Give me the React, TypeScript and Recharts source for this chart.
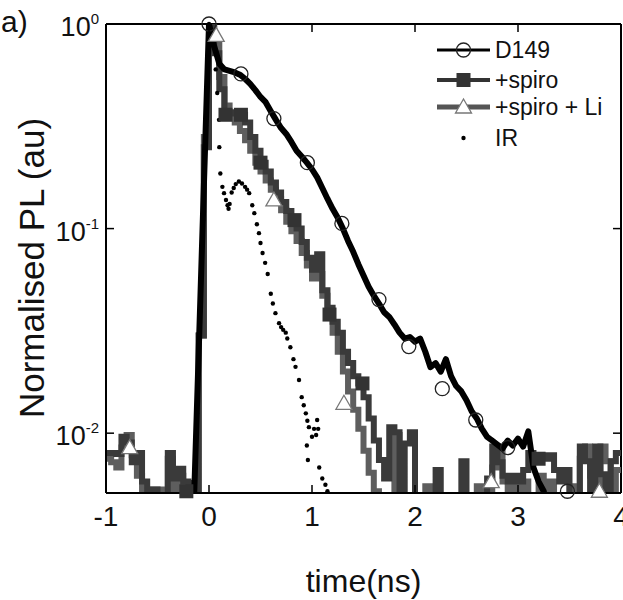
import React from 'react';
import {
  ComposedChart,
  Line,
  Scatter,
  XAxis,
  YAxis,
  ReferenceLine,
  Legend,
  Label,
} from 'recharts';

// time grid (ns), 0.05 ns bins
const T = [
  -1.0, -0.95, -0.9, -0.85, -0.8, -0.75, -0.7, -0.65, -0.6, -0.55,
  -0.5, -0.45, -0.4, -0.35, -0.3, -0.25, -0.2, -0.15, -0.1, -0.05,
  0.0, 0.05, 0.1, 0.15, 0.2, 0.25, 0.3, 0.35, 0.4, 0.45,
  0.5, 0.55, 0.6, 0.65, 0.7, 0.75, 0.8, 0.85, 0.9, 0.95,
  1.0, 1.05, 1.1, 1.15, 1.2, 1.25, 1.3, 1.35, 1.4, 1.45,
  1.5, 1.55, 1.6, 1.65, 1.7, 1.75, 1.8, 1.85, 1.9, 1.95,
  2.0, 2.05, 2.1, 2.15, 2.2, 2.25, 2.3, 2.35, 2.4, 2.45,
  2.5, 2.55, 2.6, 2.65, 2.7, 2.75, 2.8, 2.85, 2.9, 2.95,
  3.0, 3.05, 3.1, 3.15, 3.2, 3.25, 3.3, 3.35, 3.4, 3.45,
  3.5, 3.55, 3.6, 3.65, 3.7, 3.75, 3.8, 3.85, 3.9, 3.95,
  4.0,
];

// 0.004 = below the bottom of the plot
const D149 = [
  0.004, 0.004, 0.004, 0.004, 0.004, 0.004, 0.004, 0.004, 0.004, 0.004,
  0.004, 0.004, 0.004, 0.004, 0.004, 0.004, 0.004, 0.004, 0.025, 0.16,
  1.0, 0.78, 0.64, 0.6, 0.59, 0.58, 0.565, 0.54, 0.51, 0.475,
  0.44, 0.415, 0.375, 0.34, 0.31, 0.29, 0.265, 0.24, 0.225, 0.21,
  0.195, 0.178, 0.158, 0.14, 0.125, 0.113, 0.1, 0.087, 0.077, 0.067,
  0.059, 0.052, 0.047, 0.043, 0.039, 0.037, 0.034, 0.031, 0.029, 0.0295,
  0.028, 0.029, 0.025, 0.021, 0.022, 0.02, 0.023, 0.019, 0.017, 0.016,
  0.0145, 0.0128, 0.0118, 0.0105, 0.0096, 0.0092, 0.0088, 0.0084, 0.0092, 0.0087,
  0.0094, 0.0086, 0.0102, 0.0068, 0.0058, 0.0052, 0.004, 0.004, 0.004, 0.004,
  0.004, 0.004, 0.004, 0.004, 0.004, 0.004, 0.004, 0.004, 0.004, 0.004,
  0.004,
];

const SPIRO = [
  0.008, 0.008, 0.0079, 0.0096, 0.009, 0.0072, 0.008, 0.0058, 0.004, 0.0053,
  0.004, 0.004, 0.008, 0.006, 0.0067, 0.0058, 0.0057, 0.004, 0.03, 0.25,
  1.0, 0.72, 0.48, 0.37, 0.37, 0.365, 0.36, 0.33, 0.28, 0.24,
  0.21, 0.19, 0.168, 0.15, 0.135, 0.122, 0.112, 0.1, 0.086, 0.072,
  0.063, 0.075, 0.05, 0.041, 0.035, 0.031, 0.025, 0.022, 0.019, 0.0175,
  0.015, 0.0118, 0.0092, 0.0074, 0.006, 0.0107, 0.0101, 0.004, 0.0089, 0.0101,
  0.004, 0.004, 0.004, 0.004, 0.0066, 0.004, 0.004, 0.004, 0.004, 0.0073,
  0.004, 0.004, 0.004, 0.004, 0.006, 0.0086, 0.0072, 0.0062, 0.0058, 0.0062,
  0.0058, 0.0066, 0.008, 0.0078, 0.0078, 0.0075, 0.0078, 0.0066, 0.0058, 0.0066,
  0.004, 0.004, 0.0086, 0.0073, 0.004, 0.0086, 0.0063, 0.004, 0.0073, 0.008,
  0.008,
];

const SPIRO_LI = [
  0.0075, 0.0072, 0.0068, 0.0085, 0.0098, 0.0078, 0.0062, 0.004, 0.0053, 0.004,
  0.0053, 0.004, 0.0075, 0.004, 0.0062, 0.004, 0.0055, 0.004, 0.03, 0.28,
  0.95, 0.8, 0.55, 0.4, 0.35, 0.33, 0.3, 0.27, 0.24, 0.21,
  0.19, 0.172, 0.155, 0.14, 0.123, 0.108, 0.097, 0.087, 0.076, 0.066,
  0.057, 0.06, 0.047, 0.039, 0.031, 0.025, 0.02, 0.016, 0.013, 0.0105,
  0.0082, 0.0064, 0.0052, 0.004, 0.004, 0.004, 0.0098, 0.004, 0.004, 0.004,
  0.004, 0.004, 0.0055, 0.004, 0.004, 0.004, 0.004, 0.004, 0.004, 0.004,
  0.004, 0.004, 0.0055, 0.004, 0.004, 0.0068, 0.0082, 0.0058, 0.004, 0.0055,
  0.004, 0.0058, 0.004, 0.004, 0.0062, 0.004, 0.0058, 0.004, 0.004, 0.004,
  0.0055, 0.004, 0.0075, 0.0086, 0.0062, 0.004, 0.0086, 0.0073, 0.004, 0.0066,
  0.0066,
];

// instrument response, [t, value]
const IR = [
  [-0.131, 0.0071], [-0.116, 0.0125], [-0.103, 0.021], [-0.09, 0.034], [-0.073, 0.064],
  [-0.058, 0.11], [-0.045, 0.187], [-0.03, 0.32], [-0.017, 0.53], [-0.006, 0.79],
  [0.0, 1.0], [0.03, 0.8], [0.065, 0.6], [0.08, 0.46], [0.097, 0.34], [0.1, 0.25],
  [0.11, 0.186], [0.13, 0.16], [0.146, 0.149], [0.165, 0.138], [0.18, 0.13], [0.19, 0.125],
  [0.2, 0.132], [0.22, 0.15], [0.24, 0.158], [0.26, 0.165], [0.29, 0.17], [0.32, 0.166],
  [0.35, 0.16], [0.37, 0.155], [0.39, 0.149], [0.42, 0.13], [0.44, 0.119], [0.465, 0.105],
  [0.485, 0.095], [0.5, 0.085], [0.52, 0.076], [0.545, 0.068], [0.57, 0.06], [0.6, 0.048],
  [0.62, 0.043], [0.645, 0.0386], [0.68, 0.0345], [0.7, 0.033], [0.72, 0.032], [0.745, 0.031],
  [0.76, 0.029], [0.79, 0.0263], [0.82, 0.023], [0.84, 0.0211], [0.874, 0.0182], [0.9, 0.015],
  [0.92, 0.0137], [0.94, 0.0125], [0.955, 0.0115], [0.97, 0.0107], [1.0, 0.0096], [1.02, 0.0105],
  [1.05, 0.0116], [1.06, 0.0105], [1.04, 0.0098], [0.95, 0.0087], [0.96, 0.0074], [1.07, 0.0068],
  [1.1, 0.006], [1.13, 0.0056], [1.15, 0.0052],
];

// symbol positions [t, value]
const D149_MARKS = [
  [0, 1], [0.31, 0.57], [0.63, 0.345], [0.955, 0.21], [1.29, 0.106], [1.65, 0.045],
  [1.94, 0.0265], [2.265, 0.0165], [2.59, 0.0116], [2.9, 0.0085], [3.48, 0.0052],
];
const SPIRO_MARKS = [
  [-0.22, 0.0052], [0.16, 0.36], [0.31, 0.36], [0.5, 0.21], [0.83, 0.11],
  [1.17, 0.038], [1.49, 0.0175], [3.2, 0.0075],
];
const LI_MARKS = [
  [-0.77, 0.0085], [0.07, 0.88], [0.63, 0.138], [1.31, 0.014], [2.74, 0.0058], [3.79, 0.0052],
];

const X_TICKS = [-1, 0, 1, 2, 3, 4];
const Y_TICKS = [1, 0.1, 0.01];
const SERIES_NAMES = ['D149', '+spiro', '+spiro + Li', 'IR'];

const FONT = '"Liberation Sans", Arial, Helvetica, sans-serif';
const W = 623;
const H = 600;
const PLOT_LEFT = 106;
const PLOT_W = 515;
const PLOT_H = 469;

const rows = T.map((t, i) => ({ t, d149: D149[i], spiro: SPIRO[i], li: SPIRO_LI[i] }));
const pts = (list: number[][]) => list.map(([t, v]) => ({ t, v }));

function XTick(props: any) {
  const { x, y, payload } = props;
  return (
    <g>
      <text x={x} y={y + 33} textAnchor="middle" fontSize={28} fill="#111" fontFamily={FONT}>
        {payload.value}
      </text>
      <line x1={x} x2={x} y1={y} y2={y - 8} stroke="#000" strokeWidth={1.5} />
      <line x1={x} x2={x} y1={y - PLOT_H} y2={y - PLOT_H + 8} stroke="#000" strokeWidth={1.5} />
    </g>
  );
}

function YTick(props: any) {
  const { y, payload } = props;
  const x = PLOT_LEFT;
  const exp = Math.round(Math.log10(payload.value));
  return (
    <g>
      <text x={x - 7} y={y + 12} textAnchor="end" fontSize={27} fill="#111" fontFamily={FONT}>
        10
        <tspan dy={-12} fontSize={15}>
          {exp}
        </tspan>
      </text>
      <line x1={x} x2={x + 8} y1={y} y2={y} stroke="#000" strokeWidth={1.5} />
      <line x1={x + PLOT_W - 8} x2={x + PLOT_W} y1={y} y2={y} stroke="#000" strokeWidth={1.5} />
    </g>
  );
}

const Circle = (p: any) => (
  <circle cx={p.cx} cy={p.cy} r={7} fill="none" stroke="#222" strokeWidth={1.3} />
);
const Square = (p: any) => (
  <rect x={p.cx - 7} y={p.cy - 7} width={14} height={14} fill="#333" />
);
const Triangle = (p: any) => (
  <polygon
    points={`${p.cx},${p.cy - 8} ${p.cx - 8},${p.cy + 6} ${p.cx + 8},${p.cy + 6}`}
    fill="#fff"
    stroke="#777"
    strokeWidth={1.3}
  />
);
const Dot = (p: any) => <circle cx={p.cx} cy={p.cy} r={2.2} fill="#000" />;

function LegendBox() {
  const rowsY = [18, 48, 75, 106];
  return (
    <svg width={195} height={125} style={{ overflow: 'visible' }}>
      <line x1={9} x2={62} y1={rowsY[0]} y2={rowsY[0]} stroke="#000" strokeWidth={3} />
      <circle cx={35.5} cy={rowsY[0]} r={7} fill="none" stroke="#222" strokeWidth={1.3} />
      <line x1={9} x2={62} y1={rowsY[1]} y2={rowsY[1]} stroke="#333" strokeWidth={4} />
      <rect x={28.5} y={rowsY[1] - 7} width={14} height={14} fill="#333" />
      <line x1={9} x2={62} y1={rowsY[2]} y2={rowsY[2]} stroke="#555" strokeWidth={5} />
      <polygon
        points={`35.5,${rowsY[2] - 8} 27.5,${rowsY[2] + 6} 43.5,${rowsY[2] + 6}`}
        fill="#fff"
        stroke="#777"
        strokeWidth={1.3}
      />
      <circle cx={35.5} cy={rowsY[3]} r={2.2} fill="#000" />
      {SERIES_NAMES.map((name, i) => (
        <text
          key={name}
          x={67}
          y={rowsY[i] + 8}
          fontSize={23}
          fill="#111"
          fontFamily={FONT}
        >
          {name}
        </text>
      ))}
    </svg>
  );
}

export default function App() {
  return (
    <div style={{ position: 'absolute', left: 0, top: 0, width: W, height: H, background: '#fff' }}>
      <ComposedChart width={W} height={H} margin={{ top: 24, right: 2, bottom: 0, left: 0 }}>
        <XAxis
          dataKey="t"
          type="number"
          domain={[-1, 4]}
          ticks={X_TICKS}
          interval={0}
          height={107}
          tickLine={false}
          tickSize={0}
          tickMargin={0}
          axisLine={{ stroke: '#000', strokeWidth: 2 }}
          tick={<XTick />}
        >
          <Label
            value="time(ns)"
            position="insideBottom"
            offset={8}
            fontSize={32}
            fill="#111"
            fontFamily={FONT}
          />
        </XAxis>
        <YAxis
          yAxisId="y"
          type="number"
          scale="log"
          domain={[0.0051, 1]}
          ticks={Y_TICKS}
          interval={0}
          allowDataOverflow
          width={106}
          tickLine={false}
          tickSize={0}
          tickMargin={0}
          axisLine={{ stroke: '#000', strokeWidth: 2 }}
          tick={<YTick />}
        />
        <YAxis
          yAxisId="m"
          orientation="right"
          width={0}
          type="number"
          scale="log"
          domain={[0.0051, 1]}
          hide
        />
        <ReferenceLine yAxisId="y" y={1} stroke="#000" strokeWidth={2} />
        <ReferenceLine yAxisId="y" x={4} stroke="#000" strokeWidth={2} />

        <Line
          yAxisId="y"
          data={rows}
          dataKey="li"
          type="stepAfter"
          stroke="#5e5e5e"
          strokeWidth={6}
          dot={false}
          isAnimationActive={false}
        />
        <Line
          yAxisId="y"
          data={rows}
          dataKey="spiro"
          type="stepAfter"
          stroke="#3a3a3a"
          strokeWidth={6}
          dot={false}
          isAnimationActive={false}
        />
        <Line
          yAxisId="y"
          data={rows}
          dataKey="d149"
          type="linear"
          stroke="#000"
          strokeWidth={6}
          strokeLinejoin="round"
          dot={false}
          isAnimationActive={false}
        />
        <Scatter yAxisId="m" data={pts(IR)} dataKey="v" shape={Dot} isAnimationActive={false} />
        <Scatter yAxisId="m" data={pts(LI_MARKS)} dataKey="v" shape={Triangle} isAnimationActive={false} />
        <Scatter yAxisId="m" data={pts(SPIRO_MARKS)} dataKey="v" shape={Square} isAnimationActive={false} />
        <Scatter yAxisId="m" data={pts(D149_MARKS)} dataKey="v" shape={Circle} isAnimationActive={false} />

        <Legend
          layout="vertical"
          align="center"
          verticalAlign="middle"
          wrapperStyle={{ left: 428, top: 32, width: 195, height: 125 }}
          content={() => <LegendBox />}
        />
      </ComposedChart>
      <div
        style={{
          position: 'absolute',
          left: 1,
          top: 5,
          fontSize: 30,
          lineHeight: '34px',
          color: '#111',
          fontFamily: FONT,
        }}
      >
        a)
      </div>
      <svg
        width={64}
        height={H}
        style={{ position: 'absolute', left: 0, top: 0, pointerEvents: 'none' }}
      >
        <text
          x={31}
          y={268}
          transform="rotate(-90 31 268)"
          textAnchor="middle"
          dominantBaseline="central"
          fontSize={35}
          fill="#111"
          fontFamily={FONT}
        >
          Normalised PL (au)
        </text>
      </svg>
    </div>
  );
}
